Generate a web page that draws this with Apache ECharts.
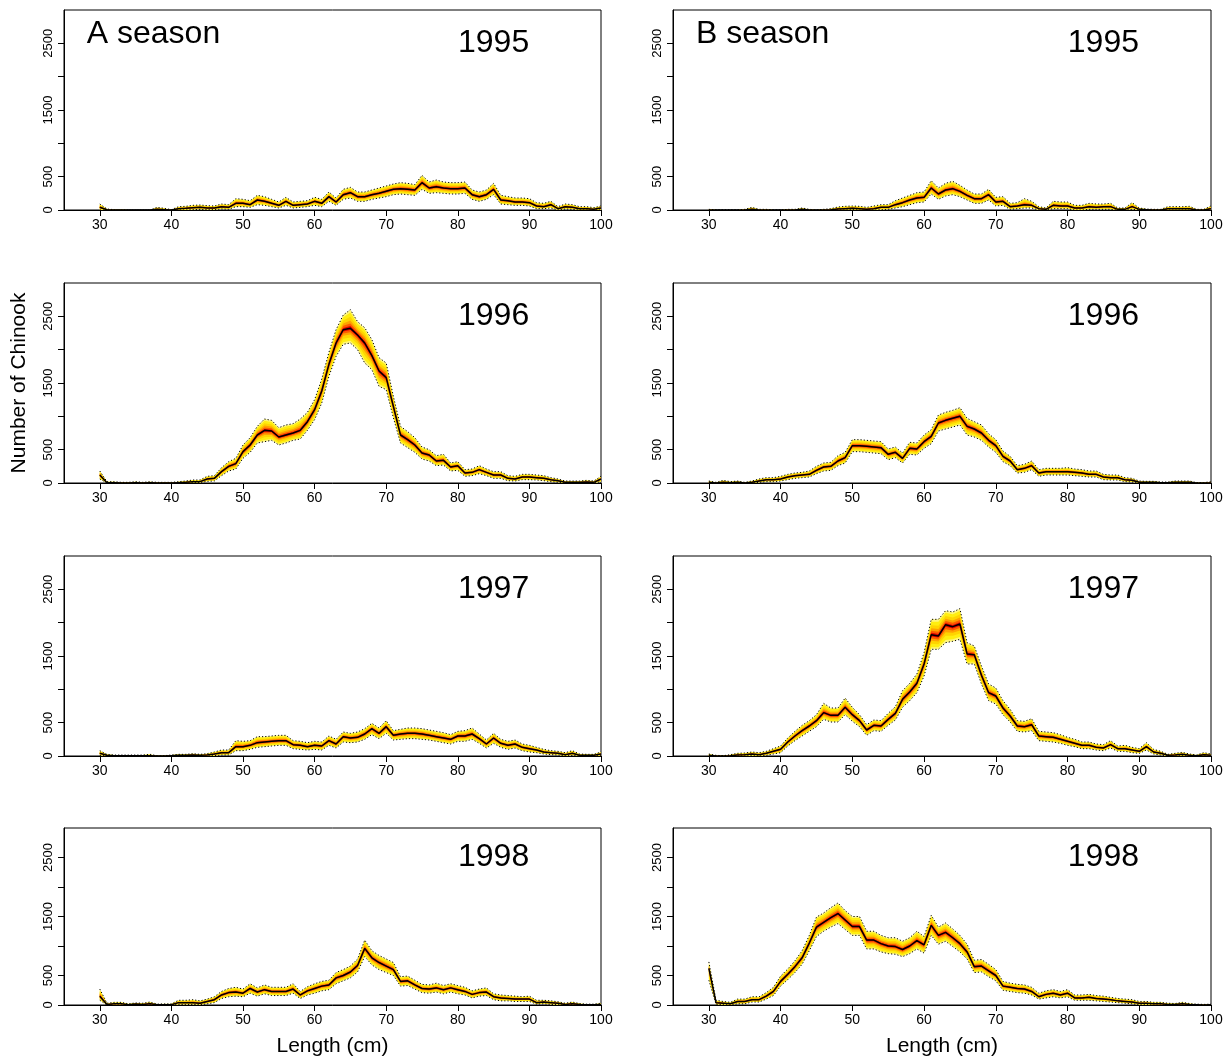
<!DOCTYPE html>
<html><head><meta charset="utf-8">
<script src="https://cdn.jsdelivr.net/npm/echarts@6/dist/echarts.min.js"></script>
<style>html,body{margin:0;padding:0;background:#fff}#c{width:1230px;height:1059px}</style>
</head><body><div id="c"></div>
<script>
// ---------------- DATA ----------------
const lengths = [30,31,32,33,34,35,36,37,38,39,40,41,42,43,44,45,46,47,48,49,50,51,52,53,54,55,56,57,58,59,60,61,62,63,64,65,66,67,68,69,70,71,72,73,74,75,76,77,78,79,80,81,82,83,84,85,86,87,88,89,90,91,92,93,94,95,96,97,98,99,100];
const xTicks = [30,40,50,60,70,80,90,100];
const yTicks = [0,500,1000,1500,2000,2500];
const yLabels = [0,500,1500,2500];
const years = ['1995','1996','1997','1998'];
const seasons = ['A season','B season'];

const a1995Mid = [40,5,0,0,0,0,0,0,10,5, 0,20,25,35,40,30,30,50,40,100, 100,80,150,130,100,70,130,70,80,90, 130,100,200,120,230,260,200,200,230,250, 280,310,320,310,300,410,330,350,330,320, 320,330,230,200,230,310,150,140,120,120, 110,60,50,80,20,50,40,20,20,10, 30];
const a1995Lo  = [0,0,0,0,0,0,0,0,0,0, 0,0,0,5,10,5,5,15,10,50, 50,40,80,70,50,30,70,30,40,50, 70,50,130,70,160,180,130,130,160,180, 200,230,240,230,220,310,250,260,250,240, 240,250,160,130,160,230,90,80,70,70, 60,20,20,30,0,15,10,0,0,0, 0];
const a1995Hi  = [90,15,5,5,0,0,0,0,40,25, 5,50,55,70,75,65,60,90,80,170, 160,140,220,200,160,120,190,120,130,140, 190,160,270,180,310,340,270,270,300,330, 360,390,410,400,380,520,420,450,420,410, 410,420,300,270,300,400,220,200,180,180, 170,110,100,130,50,90,80,50,50,35, 60];

const b1995Mid = [0,0,0,0,0,0,10,0,0,0, 0,0,0,10,0,0,0,5,15,20, 25,20,10,20,40,40,80,110,150,180, 190,330,240,300,320,280,220,170,170,230, 120,130,50,60,80,70,20,10,70,60, 60,30,30,50,40,50,50,10,10,50, 10,5,0,0,20,20,20,20,0,0, 20];
const b1995Lo  = [0,0,0,0,0,0,0,0,0,0, 0,0,0,0,0,0,0,0,0,0, 5,0,0,0,5,10,30,50,80,110, 120,240,160,210,230,200,150,100,100,150, 60,70,10,20,30,30,0,0,20,20, 20,0,0,10,10,10,10,0,0,10, 0,0,0,0,0,0,0,0,0,0, 0];
const b1995Hi  = [10,0,0,0,0,10,40,10,10,0, 0,10,10,30,10,0,10,20,45,55, 60,55,40,60,80,80,140,180,220,260, 270,440,330,400,430,370,300,240,240,310, 190,200,100,110,170,130,50,30,130,120, 120,70,70,100,90,90,100,30,30,110, 30,15,10,10,50,50,50,55,10,10, 60];

const a1996Mid = [120,5,5,0,0,5,0,5,0,0, 0,5,10,20,20,60,70,170,250,290, 470,570,720,790,780,690,720,750,790,920, 1100,1380,1780,2100,2300,2320,2220,2100,1910,1680, 1580,1150,720,650,570,450,420,330,340,240, 260,150,160,200,160,120,120,70,60,90, 90,80,70,50,35,10,10,10,15,10, 60];
const a1996Lo  = [60,0,0,0,0,0,0,0,0,0, 0,0,0,5,5,25,30,110,180,210, 370,460,600,620,640,570,600,640,660,790, 950,1200,1600,1900,2080,2100,2000,1800,1700,1450, 1400,980,600,530,460,360,330,260,270,180, 190,100,110,140,110,70,70,35,30,50, 50,45,35,20,10,0,0,0,0,0, 20];
const a1996Hi  = [180,20,20,10,10,20,10,20,10,10, 10,20,30,45,45,100,110,230,320,370, 570,680,850,960,940,830,870,890,960,1060, 1250,1560,1960,2300,2520,2600,2420,2330,2150,1880, 1800,1300,850,770,680,540,500,410,430,300, 320,200,210,260,210,170,170,110,100,130, 130,120,110,80,60,30,30,30,40,30, 100];

const b1996Mid = [10,0,10,5,10,0,10,30,50,50, 60,90,110,120,130,190,240,250,330,380, 560,560,550,540,530,430,460,370,520,510, 620,700,900,940,970,1000,850,810,750,640, 560,400,330,200,220,260,150,170,170,170, 170,160,150,130,130,90,80,80,50,40, 10,10,10,5,5,10,10,10,0,0, 0];
const b1996Lo  = [0,0,0,0,0,0,0,10,20,20, 30,50,70,80,90,140,180,190,260,300, 470,470,460,450,440,350,380,300,430,420, 520,590,780,810,840,870,720,690,640,540, 460,320,260,150,160,200,100,120,120,120, 120,110,100,90,90,50,45,45,20,15, 0,0,0,0,0,0,0,0,0,0, 0];
const b1996Hi  = [30,10,40,20,30,10,30,60,80,80, 100,130,150,160,180,250,300,310,410,460, 650,650,640,630,620,510,540,450,610,600, 720,800,1020,1060,1090,1130,970,920,870,740, 650,480,400,260,280,330,200,220,220,220, 230,210,200,180,180,130,120,120,80,70, 30,25,25,15,15,30,30,30,5,5, 20];

const a1997Mid = [40,10,5,5,5,5,5,5,0,0, 5,10,10,15,10,15,30,50,50,140, 140,160,200,210,220,230,230,170,160,140, 160,150,230,180,290,270,280,330,410,340, 440,310,330,340,340,330,310,290,270,250, 300,300,330,260,180,270,190,160,180,130, 110,90,60,50,40,20,40,10,10,10, 30];
const a1997Lo  = [10,0,0,0,0,0,0,0,0,0, 0,0,0,0,0,0,5,15,15,80, 80,100,130,140,150,160,160,110,100,90, 100,90,160,120,210,200,210,250,320,260, 340,240,250,260,260,250,240,220,200,180, 220,220,250,190,120,190,130,100,120,80, 60,50,30,20,15,0,10,0,0,0, 5];
const a1997Hi  = [80,25,15,15,15,15,15,25,5,5, 15,25,25,35,25,35,60,90,90,230, 220,230,290,290,300,310,310,230,220,200, 220,210,300,250,360,340,360,410,490,420, 530,380,400,420,420,410,390,370,350,320, 370,380,420,330,240,340,250,220,240,180, 160,130,100,80,70,50,80,30,25,25, 60];

const b1997Mid = [10,0,0,5,15,20,30,20,40,70, 100,210,300,380,450,530,650,610,610,730, 620,530,390,460,450,550,640,850,960,1090, 1380,1820,1800,1970,1940,1980,1530,1520,1210,950, 900,720,600,450,440,470,300,290,280,250, 220,190,160,160,130,120,170,110,110,90, 70,140,60,40,10,15,25,10,5,20, 10];
const b1997Lo  = [0,0,0,0,0,0,5,0,10,30, 50,150,230,300,370,440,550,510,510,620, 520,440,310,380,370,460,540,730,830,950, 1200,1600,1600,1700,1720,1750,1380,1380,1080,830, 780,620,510,370,360,380,230,220,210,190, 160,140,110,110,90,80,120,70,70,50, 40,90,30,15,0,0,5,0,0,0, 0];
const b1997Hi  = [30,10,5,20,40,45,60,50,70,110, 150,270,370,460,530,620,790,720,720,870, 730,620,470,540,530,640,740,980,1090,1230, 1550,2050,2050,2180,2160,2210,1700,1650,1350,1080, 1020,830,700,530,520,560,370,360,350,320, 280,250,210,210,180,170,230,150,160,130, 110,200,100,70,25,40,55,30,15,50, 30];

const a1998Mid = [150,10,20,20,5,15,10,20,5,5, 5,40,40,40,30,60,90,170,210,220, 200,280,220,260,230,230,230,270,170,240, 280,320,340,460,500,560,670,960,800,720, 660,600,400,410,340,280,270,290,260,290, 260,230,180,210,220,140,120,110,100,100, 100,40,50,40,30,10,20,10,5,5, 10];
const a1998Lo  = [80,0,0,0,0,0,0,0,0,0, 0,10,10,10,5,20,40,110,140,150, 140,200,150,190,160,160,160,200,110,170, 200,240,260,360,410,460,560,820,680,600, 550,500,320,330,270,210,200,220,190,220, 190,170,120,150,160,90,70,70,60,60, 60,15,20,10,5,0,0,0,0,0, 0];
const a1998Hi  = [270,30,45,45,20,35,30,50,15,20, 20,80,80,90,70,100,140,230,280,300, 270,360,290,340,300,300,300,360,230,310, 360,400,420,550,600,660,780,1100,920,840, 780,720,480,490,420,350,340,370,330,360, 330,300,240,270,290,190,170,160,150,140, 150,80,80,70,55,30,50,25,15,15, 30];

const b1998Mid = [620,40,30,20,60,60,90,90,150,230, 400,520,650,800,1050,1320,1400,1480,1550,1440, 1330,1330,1100,1100,1040,1000,990,940,1000,1090, 1020,1350,1180,1230,1140,1040,900,650,660,580, 500,320,300,280,270,230,140,180,200,170, 200,120,120,130,110,100,90,70,60,50, 30,30,20,20,10,10,20,10,5,0, 5];
const b1998Lo  = [420,10,5,0,20,20,50,50,100,160, 320,430,550,690,920,1160,1250,1320,1380,1280, 1180,1180,950,950,900,870,860,820,870,950, 880,1180,1030,1080,990,900,780,550,560,480, 410,250,230,210,200,170,100,120,140,120, 140,80,80,80,70,60,50,40,30,20, 5,5,0,0,0,0,0,0,0,0, 0];
const b1998Hi  = [730,80,60,45,100,100,140,140,210,300, 490,610,750,920,1180,1490,1560,1650,1730,1600, 1500,1500,1250,1250,1180,1140,1140,1080,1140,1250, 1160,1520,1320,1390,1290,1180,1030,760,770,690, 600,400,370,350,340,300,200,240,260,230, 260,170,170,180,160,150,130,110,100,90, 60,60,45,45,30,25,45,25,15,10, 15];

// ---------------- LAYOUT / STYLE ----------------
const FONT = "'Liberation Sans', Arial, Helvetica, sans-serif";
const COL_LEFT = [64, 673];
const COL_W = [537, 538];
const ROW_TOP = [10, 283, 556, 828];
const ROW_H = [200, 200, 200, 177];
const LEVELS = [
  {f: 1.00, color: '#FFF67A'},
  {f: 0.85, color: '#FFEE10'},
  {f: 0.62, color: '#FFD400'},
  {f: 0.42, color: '#FFA200'},
  {f: 0.26, color: '#FF5A00'},
  {f: 0.12, color: '#E00000'}
];

const panels = [
  {row:0, col:0, mid:a1995Mid, lo:a1995Lo, hi:a1995Hi, year:years[0], season:seasons[0]},
  {row:0, col:1, mid:b1995Mid, lo:b1995Lo, hi:b1995Hi, year:years[0], season:seasons[1]},
  {row:1, col:0, mid:a1996Mid, lo:a1996Lo, hi:a1996Hi, year:years[1]},
  {row:1, col:1, mid:b1996Mid, lo:b1996Lo, hi:b1996Hi, year:years[1]},
  {row:2, col:0, mid:a1997Mid, lo:a1997Lo, hi:a1997Hi, year:years[2]},
  {row:2, col:1, mid:b1997Mid, lo:b1997Lo, hi:b1997Hi, year:years[2]},
  {row:3, col:0, mid:a1998Mid, lo:a1998Lo, hi:a1998Hi, year:years[3]},
  {row:3, col:1, mid:b1998Mid, lo:b1998Lo, hi:b1998Hi, year:years[3]}
];

const plain = v => String(v);
const grids = [], xAxes = [], yAxes = [], series = [];
panels.forEach((p, i) => {
  grids.push({left: COL_LEFT[p.col], width: COL_W[p.col], top: ROW_TOP[p.row], height: ROW_H[p.row],
    show: true, borderColor: '#000', borderWidth: 1, backgroundColor: 'transparent'});
  xAxes.push({gridIndex: i, type: 'value', min: 25, max: 100,
    axisLine: {show: true, onZero: false, lineStyle: {color: '#000', width: 1}},
    axisTick: {show: true, length: 6, customValues: xTicks, lineStyle: {color: '#000'}},
    axisLabel: {customValues: xTicks, formatter: plain, margin: 8, fontSize: 14, color: '#000', fontFamily: FONT},
    splitLine: {show: false},
    name: p.row === 3 ? 'Length (cm)' : '', nameLocation: 'middle', nameGap: 31,
    nameTextStyle: {fontSize: 21, color: '#000', fontFamily: FONT}});
  yAxes.push({gridIndex: i, type: 'value', min: 0, max: 3000,
    axisLine: {show: true, lineStyle: {color: '#000', width: 1}},
    axisTick: {show: true, length: 6, customValues: yTicks, lineStyle: {color: '#000'}},
    axisLabel: {customValues: yLabels, formatter: plain, rotate: 90, margin: 9, fontSize: 13, color: '#000', fontFamily: FONT},
    splitLine: {show: false},
    name: (p.row === 1 && p.col === 0) ? 'Number of Chinook' : '', nameLocation: 'middle', nameGap: 34, nameRotate: 90,
    nameTextStyle: {fontSize: 21, color: '#000', fontFamily: FONT}});

  const mid = p.mid, lo = p.lo, hi = p.hi;
  series.push({type: 'custom', xAxisIndex: i, yAxisIndex: i, silent: true, z: 1, clip: true,
    data: LEVELS.map(() => [lengths[0], 0]),
    renderItem: function (params, api) {
      const lv = LEVELS[params.dataIndex];
      const top = [], bot = [];
      for (let k = 0; k < lengths.length; k++) {
        top.push(api.coord([lengths[k], mid[k] + lv.f * (hi[k] - mid[k])]));
        bot.push(api.coord([lengths[k], mid[k] - lv.f * (mid[k] - lo[k])]));
      }
      return {type: 'polygon', shape: {points: top.concat(bot.reverse())}, style: {fill: lv.color}};
    }});
  const dotted = {color: '#000', width: 1, type: [1.2, 2]};
  series.push({type: 'line', xAxisIndex: i, yAxisIndex: i, z: 3, silent: true, symbol: 'none',
    data: lengths.map((x, k) => [x, lo[k]]), lineStyle: dotted});
  series.push({type: 'line', xAxisIndex: i, yAxisIndex: i, z: 3, silent: true, symbol: 'none',
    data: lengths.map((x, k) => [x, hi[k]]), lineStyle: dotted});
  series.push({type: 'line', xAxisIndex: i, yAxisIndex: i, z: 4, silent: true, symbol: 'none',
    data: lengths.map((x, k) => [x, mid[k]]), lineStyle: {color: '#000', width: 1.5}});
  const textLabel = (txt) => ({show: true, position: 'inside', formatter: txt, fontSize: 32, color: '#000',
    opacity: 1, fontFamily: FONT});
  series.push({type: 'scatter', xAxisIndex: i, yAxisIndex: i, z: 5, silent: true, symbolSize: 0,
    itemStyle: {opacity: 1}, data: [[85, 2500]], label: textLabel(p.year)});
  if (p.season) {
    series.push({type: 'scatter', xAxisIndex: i, yAxisIndex: i, z: 5, silent: true, symbolSize: 0,
      itemStyle: {opacity: 1}, data: [[37.5, 2630]], label: textLabel(p.season)});
  }
});

const chart = echarts.init(document.getElementById('c'), null, {renderer: 'canvas'});
chart.setOption({animation: false, backgroundColor: '#fff', grid: grids, xAxis: xAxes, yAxis: yAxes, series: series});
</script></body></html>
